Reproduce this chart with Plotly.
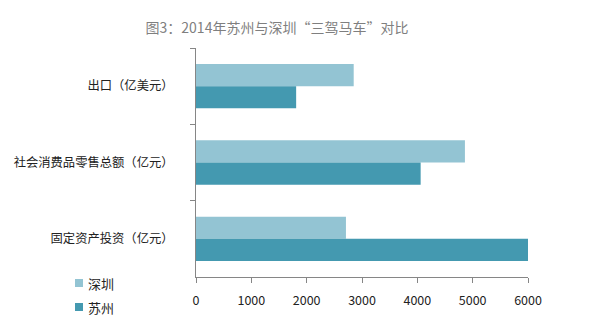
import plotly.graph_objects as go

categories = ["出口（亿美元）", "社会消费品零售总额（亿元）", "固定资产投资（亿元）"]
series_names = ["深圳", "苏州"]
shenzhen = [2850, 4860, 2710]
suzhou = [1810, 4060, 6010]
x_ticks = [0, 1000, 2000, 3000, 4000, 5000, 6000]

FONT = "Noto Sans CJK SC, Microsoft YaHei, sans-serif"
COLORS = ["#93C4D3", "#4499B0"]

W, H = 609, 329
L, R, T, B = 196, 81, 48, 52
PW, PH = W - L - R, H - T - B

fig = go.Figure()
for name, vals, col in zip(series_names, [shenzhen, suzhou], COLORS):
    fig.add_trace(go.Bar(
        y=categories, x=vals, name=name, orientation="h",
        marker=dict(color=col, line=dict(width=0)), showlegend=False,
    ))


def px_x(p):
    return (p - L) / PW


def px_y(p):
    return (H - B - p) / PH


# Legend entries drawn as small squares with labels below-left of the axes
shapes, annotations = [], []
for i, (name, col) in enumerate(zip(series_names, COLORS)):
    cy = 283 + i * 24
    shapes.append(dict(
        type="rect", xref="paper", yref="paper",
        x0=px_x(75), x1=px_x(83), y0=px_y(cy + 4), y1=px_y(cy - 4),
        fillcolor=col, line=dict(width=0),
    ))
    annotations.append(dict(
        text=name, xref="paper", yref="paper", x=px_x(86), y=px_y(cy),
        xanchor="left", yanchor="middle", showarrow=False,
        font=dict(family=FONT, size=13, color="#222"),
    ))

fig.update_layout(
    width=W, height=H,
    margin=dict(l=L, r=R, t=T, b=B),
    paper_bgcolor="white", plot_bgcolor="white",
    barmode="group", bargap=0.42, bargroupgap=0,
    showlegend=False,
    shapes=shapes, annotations=annotations,
    title=dict(
        text="图3：2014年苏州与深圳“三驾马车”对比",
        x=277 / W, xanchor="center", y=1 - 28 / H, yanchor="middle",
        font=dict(family=FONT, size=14, color="#7f7f7f"),
    ),
    font=dict(family=FONT, size=12, color="#222"),
    xaxis=dict(
        range=[0, 6000], tickvals=x_ticks, ticktext=[str(v) for v in x_ticks],
        showgrid=False, zeroline=False, showline=True, linecolor="#868686",
        linewidth=1, ticks="outside", ticklen=5, tickcolor="#868686",
        ticklabelstandoff=7,
        tickfont=dict(family=FONT, size=12.5, color="#222"),
        automargin=False, fixedrange=True,
    ),
    yaxis=dict(
        categoryorder="array", categoryarray=categories, autorange="reversed",
        showgrid=False, zeroline=False, showline=True, linecolor="#868686",
        linewidth=1, ticks="outside", ticklen=5, tickcolor="#868686",
        tickson="boundaries", ticklabelstandoff=19,
        tickfont=dict(family=FONT, size=12.3, color="#222"),
        automargin=False, fixedrange=True,
    ),
)

fig.write_html("out.html")
